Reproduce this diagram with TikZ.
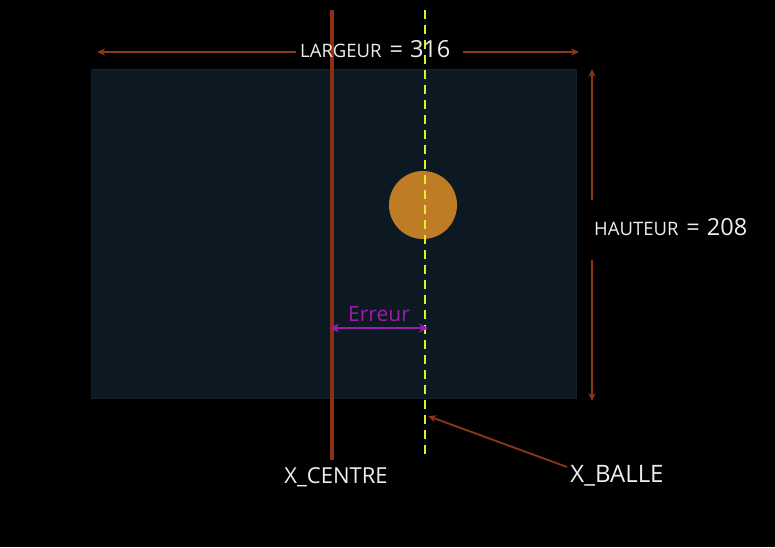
\documentclass[tikz,border=0pt]{standalone}
\usepackage{fontspec}
\setmainfont{Open Sans}
\usetikzlibrary{arrows.meta}
\definecolor{bgpanel}{RGB}{12,25,34}
\definecolor{panelline}{RGB}{20,33,42}
\definecolor{rust}{RGB}{142,46,18}
\definecolor{rustarr}{RGB}{140,55,25}
\definecolor{ylw}{RGB}{222,240,40}
\definecolor{ballc}{RGB}{190,124,36}
\definecolor{purp}{RGB}{155,30,170}
\definecolor{txtw}{RGB}{238,238,238}
\tikzset{
  dimarrow/.style={draw=rustarr, line width=1.7pt, -{Stealth[length=8pt,width=7pt]}},
  errarrow/.style={draw=purp, line width=2.8pt, {Stealth[length=9pt,width=9pt]}-{Stealth[length=9pt,width=9pt]}},
  lbl/.style={text=txtw, inner sep=0pt},
}
\begin{document}
\begin{tikzpicture}[x=1pt,y=-1pt]
\fill[black] (0,0) rectangle (775,547);
\useasboundingbox (0,0) rectangle (775,547);
% panel
\node[draw=panelline, fill=bgpanel, line width=1pt, minimum width=485pt, minimum height=329pt, inner sep=0pt] (panel) at (333.5,233.5) {};
% ball
\node[circle, fill=ballc, minimum size=68pt, inner sep=0pt] (ball) at (423,205) {};
% lines
\coordinate (ctop) at (332,10);
\coordinate (cbot) at (332,460);
\draw[rust, line width=4.5pt] (ctop) -- (cbot);
\coordinate (btop) at (425,10);
\coordinate (bbot) at (425,458);
\draw[ylw, line width=2pt, dash pattern=on 9pt off 6pt] (btop) -- (bbot);
% largeur
\node[lbl, anchor=base west] (larg) at (300,57) {\fontsize{18.5}{20}\selectfont LARGEUR\hspace{8pt}\fontsize{23.5}{26}\selectfont=\hspace{7pt}316};
\coordinate (lL) at (97,52);
\coordinate (lR) at (579,52);
\coordinate (lLs) at (296,52);
\coordinate (lRs) at (463,52);
\draw[dimarrow] (lLs) -- (lL);
\draw[dimarrow] (lRs) -- (lR);
% hauteur
\node[lbl, anchor=base west] (haut) at (594,235) {\fontsize{18.5}{20}\selectfont HAUTEUR\hspace{8pt}\fontsize{23.5}{26}\selectfont=\hspace{7pt}208};
\coordinate (hT) at (592,69);
\coordinate (hB) at (592,401);
\coordinate (hTs) at (592,200);
\coordinate (hBs) at (592,260);
\draw[dimarrow] (hTs) -- (hT);
\draw[dimarrow] (hBs) -- (hB);
% erreur
\coordinate (e1) at (330,328);
\coordinate (e2) at (428,328);
\draw[errarrow] (e1) -- (e2);
\node[text=purp, inner sep=0pt, anchor=base, font=\fontsize{21}{24}\selectfont] (err) at (379,321) {Erreur};
% labels
\node[lbl, anchor=base, font=\fontsize{22}{24}\selectfont] (xc) at (336,483) {X\_CENTRE};
\node[lbl, anchor=base, font=\fontsize{24}{26}\selectfont] (xb) at (617,482) {X\_BALLE};
\coordinate (xbtip) at (428,416);
\coordinate (xbs) at (567,467);
\draw[dimarrow, line width=1.8pt] (xbs) -- (xbtip);
\end{tikzpicture}
\end{document}
